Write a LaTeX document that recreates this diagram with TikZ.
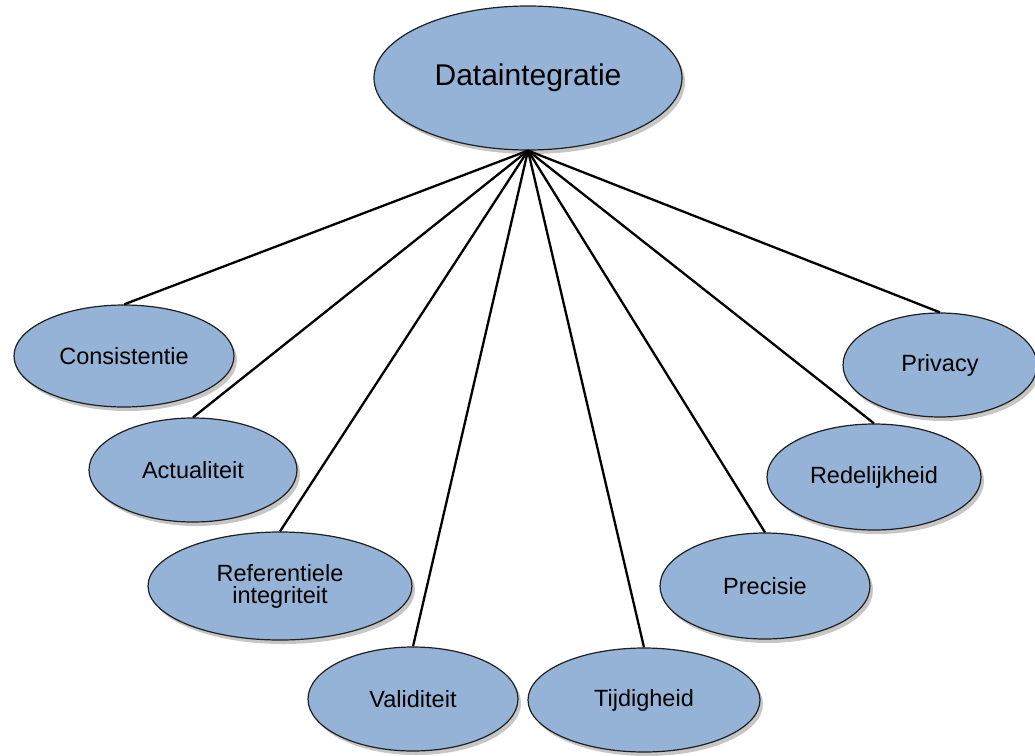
\documentclass[tikz,border=0pt]{standalone}
\usepackage{fontspec}
\setmainfont{Liberation Sans}
\usetikzlibrary{shapes.geometric,shadows}
\definecolor{ovalfill}{HTML}{95B3D7}
\definecolor{ovalline}{HTML}{1F1F1F}
\tikzset{
  oval/.style={ellipse, draw=ovalline, line width=1.2pt, fill=ovalfill, inner sep=0pt,
    align=center, font=\fontsize{23.5}{19.5}\selectfont,
    drop shadow={opacity=0.45, shadow xshift=3pt, shadow yshift=-4pt}},
  link/.style={line width=2.3pt, black}
}
\begin{document}
\begin{tikzpicture}[x=1pt,y=-1pt]
\useasboundingbox (0,0) rectangle (1035,755);
\node[oval, minimum width=308pt, minimum height=144pt, font=\fontsize{30}{32}\selectfont] (top) at (528,78) {Dataintegratie};
\node[oval, minimum width=220pt, minimum height=102pt] (cons) at (124,356) {Consistentie};
\node[oval, minimum width=208pt, minimum height=104pt] (act) at (193,470) {Actualiteit};
\node[oval, minimum width=264pt, minimum height=108pt, font=\fontsize{23.5}{22}\selectfont] (ref) at (280,586) {Referentiele\\integriteit};
\node[oval, minimum width=210pt, minimum height=104pt] (val) at (413,699) {Validiteit};
\node[oval, minimum width=232pt, minimum height=104pt] (tijd) at (644,700) {Tijdigheid};
\node[oval, minimum width=210pt, minimum height=106pt] (prec) at (765,586) {Precisie};
\node[oval, minimum width=214pt, minimum height=106pt] (red) at (874,477) {Redelijkheid};
\node[oval, minimum width=194pt, minimum height=104pt] (priv) at (940,365) {Privacy};
\foreach \n in {cons,act,ref,val,tijd,prec,red,priv}
  \draw[link] (top.south) -- (\n.north);
\end{tikzpicture}
\end{document}
